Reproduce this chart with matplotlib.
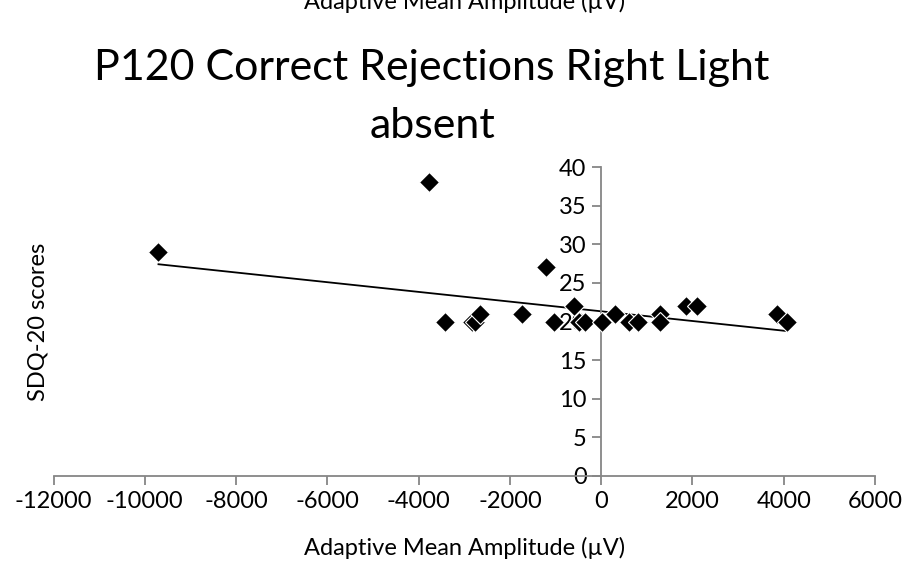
import numpy as np
import matplotlib
matplotlib.use("Agg")
import matplotlib.pyplot as plt

plt.rcParams['font.family'] = ['Lato', 'DejaVu Sans']

title = "P120 Correct Rejections Right Light\nabsent"
x_label = "Adaptive Mean Amplitude (µV)"
y_label = "SDQ-20 scores"

amplitude = [-9700, -3780, -3430, -2830, -2760, -2650, -1730, -1210, -1030,
             -600, -480, -350, 10, 300, 600, 800, 1290, 1290, 1860, 2100,
             3850, 4080]
sdq20 = [29, 38, 20, 20, 20, 21, 21, 27, 20,
         22, 20, 20, 20, 21, 20, 20, 21, 20, 22, 22,
         21, 20]

# linear trendline as shown on the chart
trend_slope = -0.000628
trend_intercept = 21.32

x_ticks = [-12000, -10000, -8000, -6000, -4000, -2000, 0, 2000, 4000, 6000]
y_ticks = [0, 5, 10, 15, 20, 25, 30, 35, 40]

W, H = 905, 567
fig = plt.figure(figsize=(W / 100, H / 100), dpi=100)
ax = fig.add_axes([53.5 / W, 1 - 476 / H, (875 - 53.5) / W, (476 - 167) / H])

ax.set_xlim(-12000, 6000)
ax.set_ylim(0, 40)

axis_grey = "#868686"
for s in ['top', 'right']:
    ax.spines[s].set_visible(False)
ax.spines['left'].set_position(('data', 0))
ax.spines['bottom'].set_position(('data', 0))
for s in ['left', 'bottom']:
    ax.spines[s].set_color(axis_grey)
    ax.spines[s].set_linewidth(1.3)

ax.set_xticks(x_ticks)
ax.set_yticks(y_ticks)
ax.set_xticklabels([str(v) for v in x_ticks])
ax.set_yticklabels([str(v) for v in y_ticks])
ax.tick_params(axis='both', direction='out', length=6.5, width=1.3,
               color=axis_grey, labelsize=17, labelcolor='black')
ax.tick_params(axis='x', pad=4)
ax.tick_params(axis='y', pad=4)

xa = np.array(amplitude, dtype=float)
ya = np.array(sdq20, dtype=float)
xt = np.array([xa.min(), xa.max()])
ax.plot(xt, trend_slope * xt + trend_intercept, color='black', lw=1.3, zorder=2)

ax.plot(xa, ya, linestyle='none', marker='D', ms=10.5, mfc='black',
        mec='white', mew=0.8, zorder=3, clip_on=False)

lines = title.split("\n")
fig.text(432 / W, 1 - 80 / H, lines[0], ha='center', va='baseline', fontsize=31)
fig.text(432 / W, 1 - 138 / H, lines[1], ha='center', va='baseline', fontsize=31)
fig.text(465 / W, 1 - 9 / H, x_label, ha='center', va='baseline', fontsize=17)
fig.text(465 / W, 1 - 555 / H, x_label, ha='center', va='baseline', fontsize=17)
fig.text(38 / W, 1 - 322 / H, y_label, ha='center', va='center', rotation=90,
         fontsize=17)

fig.savefig("out.png", dpi=100)
